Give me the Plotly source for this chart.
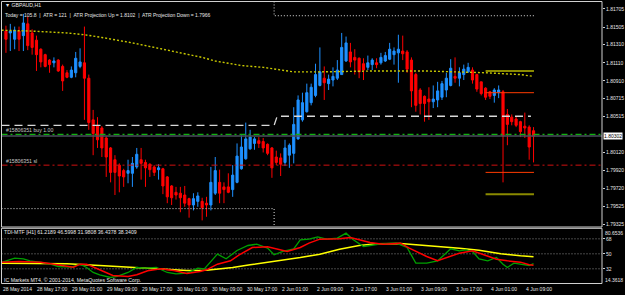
import plotly.graph_objects as go

W, H = 625, 295
FONT = "Liberation Sans, Arial"

# ---------------- data ----------------
bars = list(range(1, 123))
opens = [1.8146,1.8144,1.8137,1.8146,1.8141,1.8154,1.8144,1.8136,1.8126,1.8120,
         1.8114,1.8111,1.8114,1.8107,1.8100,1.8095,1.8100,1.8107,1.8111,1.8094,
         1.8048,1.8042,1.8039,1.8028,1.8017,1.8004,1.7998,1.7992,1.7989,1.7989,
         1.7996,1.8004,1.8001,1.7999,1.7996,1.7993,1.7994,1.7985,1.7975,1.7968,
         1.7967,1.7965,1.7961,1.7954,1.7958,1.7958,1.7956,1.7954,1.7967,1.7979,
         1.7974,1.7974,1.7971,1.7979,1.7994,1.8005,1.8016,1.8022,1.8025,1.8024,
         1.8021,1.8017,1.8007,1.8006,1.8001,1.8009,1.8011,1.8027,1.8048,1.8057,
         1.8067,1.8075,1.8086,1.8094,1.8088,1.8092,1.8094,1.8098,1.8113,1.8123,
         1.8117,1.8116,1.8110,1.8106,1.8109,1.8111,1.8111,1.8113,1.8115,1.8120,
         1.8122,1.8124,1.8123,1.8114,1.8098,1.8081,1.8074,1.8071,1.8068,1.8070,
         1.8073,1.8081,1.8086,1.8096,1.8094,1.8098,1.8101,1.8103,1.8098,1.8090,
         1.8083,1.8079,1.8075,1.8078,1.8079,1.8054,1.8051,1.8049,1.8046,1.8041,
         1.8040,1.8036]
highs = [1.8152,1.8154,1.8151,1.8151,1.8165,1.8162,1.8148,1.8141,1.8127,1.8121,
         1.8115,1.8117,1.8115,1.8109,1.8103,1.8107,1.8123,1.8127,1.8151,1.8098,
         1.8059,1.8051,1.8041,1.8030,1.8018,1.8009,1.8000,1.7994,1.8004,1.8007,
         1.8017,1.8017,1.8004,1.8000,1.7998,1.7999,1.7995,1.7986,1.7976,1.7974,
         1.7974,1.7975,1.7962,1.7967,1.7968,1.7962,1.7963,1.7996,1.8007,1.7993,
         1.7979,1.7989,1.7998,1.8022,1.8031,1.8045,1.8037,1.8029,1.8029,1.8028,
         1.8022,1.8018,1.8014,1.8011,1.8026,1.8022,1.8062,1.8075,1.8078,1.8088,
         1.8088,1.8110,1.8128,1.8107,1.8098,1.8106,1.8114,1.8144,1.8140,1.8133,
         1.8126,1.8117,1.8116,1.8119,1.8116,1.8116,1.8122,1.8123,1.8133,1.8128,
         1.8142,1.8141,1.8125,1.8117,1.8100,1.8083,1.8075,1.8084,1.8086,1.8090,
         1.8091,1.8100,1.8115,1.8117,1.8106,1.8109,1.8111,1.8106,1.8099,1.8090,
         1.8084,1.8080,1.8083,1.8086,1.8081,1.8060,1.8054,1.8052,1.8047,1.8056,
         1.8042,1.8040]
lows = [1.8122,1.8124,1.8126,1.8124,1.8124,1.8125,1.8120,1.8102,1.8106,1.8106,
        1.8100,1.8106,1.8101,1.8080,1.8094,1.8094,1.8095,1.8105,1.8048,1.8037,
        1.8009,1.8017,1.8007,1.7985,1.7979,1.7965,1.7968,1.7974,1.7978,1.7974,
        1.7994,1.7982,1.7974,1.7985,1.7986,1.7982,1.7966,1.7956,1.7954,1.7960,
        1.7946,1.7952,1.7940,1.7948,1.7952,1.7937,1.7941,1.7948,1.7965,1.7956,
        1.7956,1.7967,1.7963,1.7978,1.7993,1.8004,1.8015,1.8015,1.8017,1.8012,
        1.8009,1.7984,1.7998,1.7986,1.7997,1.7995,1.8000,1.8026,1.8046,1.8056,
        1.8064,1.8073,1.8085,1.8070,1.8081,1.8085,1.8092,1.8098,1.8112,1.8106,
        1.8098,1.8094,1.8092,1.8103,1.8103,1.8105,1.8109,1.8112,1.8114,1.8109,
        1.8089,1.8114,1.8100,1.8062,1.8057,1.8054,1.8046,1.8048,1.8061,1.8062,
        1.8070,1.8073,1.8085,1.8089,1.8085,1.8092,1.8100,1.8088,1.8079,1.8075,
        1.8070,1.8071,1.8067,1.8072,1.7979,1.8020,1.8042,1.8040,1.8029,1.8028,
        1.8004,1.8001]
closes = [1.8137,1.8146,1.8147,1.8137,1.8155,1.8130,1.8128,1.8120,1.8112,1.8107,
          1.8109,1.8113,1.8102,1.8091,1.8095,1.8103,1.8116,1.8112,1.8094,1.8045,
          1.8033,1.8026,1.8017,1.8007,1.7990,1.7990,1.7986,1.7985,1.7992,1.8000,
          1.8010,1.8000,1.7995,1.7993,1.7990,1.7995,1.7975,1.7963,1.7962,1.7965,
          1.7962,1.7956,1.7954,1.7961,1.7964,1.7951,1.7954,1.7979,1.7992,1.7967,
          1.7971,1.7968,1.7987,1.8008,1.8018,1.8027,1.8029,1.8027,1.8022,1.8017,
          1.8011,1.7995,1.8001,1.7999,1.8017,1.8020,1.8043,1.8070,1.8067,1.8078,
          1.8084,1.8098,1.8101,1.8089,1.8093,1.8096,1.8103,1.8128,1.8133,1.8112,
          1.8114,1.8101,1.8103,1.8111,1.8114,1.8109,1.8117,1.8119,1.8126,1.8124,
          1.8126,1.8121,1.8104,1.8080,1.8064,1.8066,1.8066,1.8068,1.8071,1.8080,
          1.8088,1.8094,1.8105,1.8094,1.8100,1.8104,1.8106,1.8092,1.8082,1.8077,
          1.8073,1.8074,1.8081,1.8081,1.8030,1.8043,1.8046,1.8042,1.8035,1.8039,
          1.8018,1.8030]

# slow moving average (yellow dotted)
ma_x = [0, 7, 15, 19, 23, 30, 38, 46, 49, 55, 60, 67, 73, 86, 97, 107, 111, 119, 122]
ma_v = [1.8147, 1.8146, 1.8144, 1.8142, 1.8139, 1.8133, 1.8125, 1.8117, 1.8113, 1.8108,
        1.8106, 1.8101, 1.8101, 1.8102, 1.8102, 1.8101, 1.8100, 1.8098, 1.8096]

# levels
day_break = 62.5
today_start = 111
last_bar = 122.1
pivot_prev, pivot_now = 1.8042, 1.8052
range_low_prev, range_high_now = 1.7950, 1.8163
atr_up, atr_down = 1.8102, 1.7966
day_high_proj, day_low_proj = 1.8078, 1.7990
buy_price, sl_price, bid = 1.8032, 1.7998, 1.80302

price_ticks = [1.81705, 1.81505, 1.81310, 1.81110, 1.80910, 1.80715, 1.80515,
               1.80120, 1.79920, 1.79720, 1.79525, 1.79325]

# TDI
g_x = [0,2,3,5,6.5,9,11,13,16,18,19.5,21,22.5,25,26.5,29,31,33,35.5,38,40,42.5,45,46.5,48,
       49.5,51.5,54,56.5,58.5,61,62.5,64.5,67,68.5,70.5,72.5,74.5,77,79,80.5,83,84.5,87,90.5,
       93,95,97.5,100,103,105,106.5,108,109.5,111.5,113.5,115,116,117.5,119,121,122]
g_v = [39.6,42.8,44.8,44,41.6,39.6,38,34.8,34,37.6,33.6,27.6,24.8,21.6,22.8,27.6,33.6,32.8,
       33.6,27.6,26,26.8,32.8,32,40.8,49.6,44,54,60,61.6,56.8,48.8,52.8,56,66.8,67.6,70.4,
       67.6,68.8,74.8,67.6,58.8,60,62,62.8,57.6,38.8,38.8,41.6,56,53.6,54.8,52.8,44,41.6,
       45.6,37.6,33.6,38.8,37.6,36,38.3]
r_x = [0,4,9,13.5,16.5,18,19.5,22.5,25.5,29,31,33.5,36.5,39.5,42.5,45.5,47,49.5,52.5,54.5,
       57.5,61,63,65.5,68.5,70.5,73,77.5,80,82,84.5,87.5,91.5,93.5,97.5,100,102,105,108,
       110.5,113.5,116,119,121,122]
r_v = [40,40.8,40,36,34,37.6,37.6,30.8,24,22.8,24.8,29.6,32,30,26.4,28.8,30.8,37.6,41.6,48.8,
       57.6,58.4,55.6,52.8,57.6,62.8,67.6,68,69.6,66.8,63.6,61.6,62.8,56.8,46.8,41.6,45.6,
       50.8,53.6,48.8,43.6,41.6,40,36.8,36.4]
y_x = [0,7,15,22.5,30,38,42.5,47,53,57,61,65.5,68.5,73,77.5,82,86,91.5,96,100.5,105,109.5,
       114.5,119,122]
y_v = [38.8,38.4,38,36,34,31.6,30,30.4,33.6,36.8,39.6,42.8,45.6,49.6,55.6,60,62,62.4,60.8,
       58.8,56.8,54.4,50,47.6,46.6]
tdi_levels = [68, 50, 32]
tdi_min, tdi_max = 14.3618, 80.6536

time_idx = [0, 8, 16, 24, 32, 40, 48, 56, 64, 72, 80, 88, 96, 104, 112, 120]
time_lbl = ["28 May 2014", "28 May 17:00", "29 May 01:00", "29 May 09:00", "29 May 17:00",
            "30 May 01:00", "30 May 09:00", "30 May 17:00", "2 Jun 01:00", "2 Jun 09:00",
            "2 Jun 17:00", "3 Jun 01:00", "3 Jun 09:00", "3 Jun 17:00", "4 Jun 01:00",
            "4 Jun 09:00"]

# ---------------- layout geometry ----------------
XR = [-0.02, 137.7]
YR = [1.79297, 1.81787]
px = lambda p: p / W
py = lambda p: (H - p) / H
main_dom = [py(227), py(1.5)]
tdi_dom = [py(283.5), py(228.3)]
x_dom = [px(1.5), px(602)]

fig = go.Figure()

def line(xs, ys, color, width=1, dash="solid", xa="x", ya="y"):
    fig.add_trace(go.Scatter(x=xs, y=ys, mode="lines", xaxis=xa, yaxis=ya,
                             line=dict(color=color, width=width, dash=dash),
                             hoverinfo="skip", showlegend=False, connectgaps=False))

# horizontal order / price lines (full width)
line(XR, [sl_price, sl_price], "#d01010", 1, "6px,3px,2px,3px")
line(XR, [buy_price, buy_price], "#10b010", 1.2, "6px,3px,2px,3px")
line(XR, [bid, bid], "#4a505c", 1.6)

# daily range lines (white dotted)
line([XR[0], day_break, day_break], [range_low_prev, range_low_prev, YR[0] - 0.001],
     "#e0e0e0", 1, "1px,2px")
line([day_break, day_break, last_bar], [YR[1] + 0.001, range_high_now, range_high_now],
     "#e0e0e0", 1, "1px,2px")
# pivot (white dashed)
line([XR[0], day_break, day_break + 0.7, last_bar - 0.7],
     [pivot_prev, pivot_prev, pivot_now, pivot_now], "#d8d8d8", 1.3, "8px,5px")

# moving average
line(ma_x, ma_v, "#c8c800", 1.4, "2px,2px")

# ATR projections
line([today_start, last_bar], [atr_up, atr_up], "#8a8a00", 2)
line([today_start, last_bar], [atr_down, atr_down], "#8a8a00", 2)
line([today_start, last_bar], [day_high_proj, day_high_proj], "#ff3c00", 1)
line([today_start, last_bar], [day_low_proj, day_low_proj], "#ff3c00", 1)

# candles
fig.add_trace(go.Candlestick(
    x=bars, open=opens, high=highs, low=lows, close=closes,
    increasing=dict(line=dict(color="#1e90ff", width=1), fillcolor="#1e90ff"),
    decreasing=dict(line=dict(color="#ff0000", width=1), fillcolor="#ff0000"),
    whiskerwidth=0, xaxis="x", yaxis="y", hoverinfo="skip", showlegend=False))

# TDI panel
for lv in tdi_levels:
    line(XR, [lv, lv], "#8c8c8c", 1, "1px,2px", "x2", "y2")
line(y_x, y_v, "#ffff00", 1.5, "solid", "x2", "y2")
line(g_x, g_v, "#00a000", 1.3, "solid", "x2", "y2")
line(r_x, r_v, "#ff0000", 1.5, "solid", "x2", "y2")

FS_AX = 5
FS_TX = 5.2
tf = dict(family=FONT, size=FS_AX, color="#e6e6e6")
fig.update_layout(
    width=W, height=H, margin=dict(l=0, r=0, t=0, b=0),
    paper_bgcolor="#000000", plot_bgcolor="#000000", showlegend=False,
    xaxis=dict(domain=x_dom, range=XR, showgrid=False, zeroline=False,
               showticklabels=False, ticks="", rangeslider=dict(visible=False),
               anchor="y", fixedrange=True),
    yaxis=dict(domain=main_dom, range=YR, side="right", showgrid=False, zeroline=False,
               tickvals=price_ticks, ticktext=[f"{v:.5f}" for v in price_ticks],
               tickfont=tf, ticks="outside", ticklen=2, tickcolor="#d0d0d0",
               ticklabelstandoff=0, anchor="x", automargin=False),
    xaxis2=dict(domain=x_dom, range=XR, showgrid=False, zeroline=False,
                showticklabels=False, anchor="y2", rangeslider=dict(visible=False)),
    yaxis2=dict(domain=tdi_dom, range=[tdi_min, tdi_max], side="right", showgrid=False,
                zeroline=False, tickvals=tdi_levels, ticktext=[str(v) for v in tdi_levels],
                tickfont=tf, ticks="outside", ticklen=2, tickcolor="#d0d0d0",
                ticklabelstandoff=0, anchor="x2", automargin=False),
)

# frames
for dom in (main_dom, tdi_dom):
    fig.add_shape(type="rect", xref="paper", yref="paper", x0=x_dom[0], x1=x_dom[1],
                  y0=dom[0], y1=dom[1], line=dict(color="#d0d0d0", width=1),
                  fillcolor="rgba(0,0,0,0)")

ann = []
def text(x, y, s, xref="paper", yref="paper", xanchor="left", yanchor="middle",
         color="#e6e6e6", size=FS_TX, bg=None):
    d = dict(x=x, y=y, xref=xref, yref=yref, text=s, showarrow=False, xanchor=xanchor,
             yanchor=yanchor, font=dict(family=FONT, size=size, color=color),
             borderpad=0)
    if bg:
        d["bgcolor"] = bg
    ann.append(d)

text(px(4), py(5), "▼ GBPAUD,H1")
text(px(4), py(14.5),
     "Today = 105.8  |  ATR = 121  |  ATR Projection Up = 1.8102  |  ATR Projection Down = 1.7966",
     size=5)
text(px(5), buy_price, "#15806351 buy 1.00", yref="y", yanchor="bottom", color="#c8c8c8")
text(px(5), sl_price, "#15806351 sl", yref="y", yanchor="bottom", color="#c8c8c8")
text(px(603), bid, f"{bid:.5f}", yref="y", color="#000000", bg="#ffffff", size=FS_AX)
text(px(3), py(232), "TDI-MTF [H1] 61.2189 46.5998 31.9808 36.4378 38.3409")
text(px(3), py(280), "IC Markets MT4, © 2001-2014, MetaQuotes Software Corp.")
text(px(604), py(228.5), f"{tdi_max:.4f}", yanchor="top", size=FS_AX)
text(px(604), py(283.5), f"{tdi_min:.4f}", yanchor="bottom", size=FS_AX)
for i, s in zip(time_idx, time_lbl):
    text(i, py(289), s, xref="x2", size=FS_AX)
fig.update_layout(annotations=ann)

fig.write_html("out.html")
